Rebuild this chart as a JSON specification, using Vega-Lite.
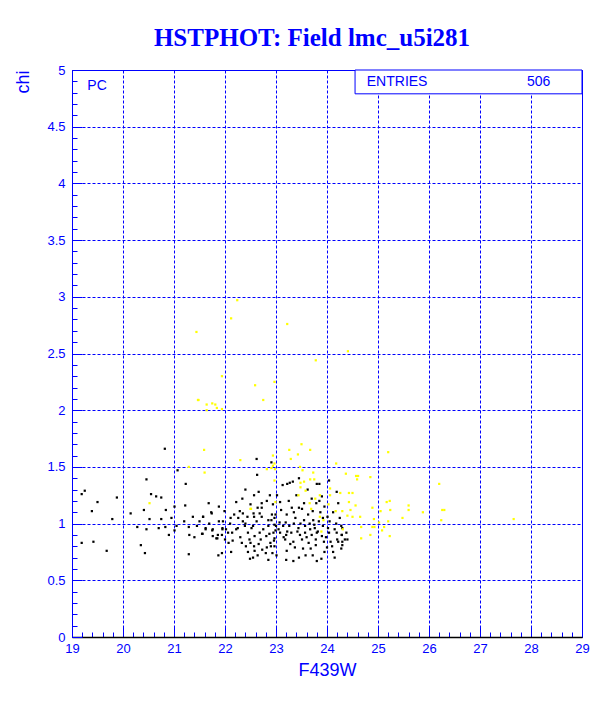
{
  "$schema": "https://vega.github.io/schema/vega-lite/v6.json",
  "width": 510,
  "height": 567,
  "autosize": {"type": "none"},
  "padding": {"left": 72, "top": 70, "right": 30, "bottom": 72},
  "background": "white",
  "config": {"view": {"stroke": "#0000ff", "strokeWidth": 1}},
  "title": {"text": "HSTPHOT: Field lmc_u5i281", "font": "Liberation Serif", "fontSize": 25, "fontWeight": "bold", "color": "#0000ff", "anchor": "middle", "offset": 13, "dx": -15},
  "encoding": {
    "x": {"field": "x", "type": "quantitative",
      "scale": {"domain": [19, 29], "nice": false, "zero": false},
      "axis": {
        "values": [19,19.2,19.4,19.6,19.8,20,20.2,20.4,20.6,20.8,21,21.2,21.4,21.6,21.8,22,22.2,22.4,22.6,22.8,23,23.2,23.4,23.6,23.8,24,24.2,24.4,24.6,24.8,25,25.2,25.4,25.6,25.8,26,26.2,26.4,26.6,26.8,27,27.2,27.4,27.6,27.8,28,28.2,28.4,28.6,28.8,29],
        "labelExpr": "abs(datum.value-round(datum.value))<0.01 ? format(datum.value,'d') : ''",
        "grid": true, "gridColor": "#0000ff", "gridDash": [3, 2], "gridWidth": 1,
        "gridOpacity": {"condition": {"test": "abs(datum.value-round(datum.value))<0.01", "value": 1}, "value": 0},
        "tickSize": {"condition": {"test": "abs(datum.value-round(datum.value))<0.01", "value": -10}, "value": -5},
        "tickColor": "#0000ff", "domainColor": "#000000", "domainWidth": 1.5,
        "labelColor": "#0000ff", "labelFont": "Liberation Sans", "labelFontSize": 13, "labelPadding": 15,
        "labelFlush": false, "labelOverlap": false,
        "title": "F439W", "titleColor": "#0000ff", "titleFont": "Liberation Sans", "titleFontSize": 18, "titleFontWeight": "normal", "titlePadding": 1
      }},
    "y": {"field": "y", "type": "quantitative",
      "scale": {"domain": [0, 5], "nice": false, "zero": false},
      "axis": {
        "values": [0,0.1,0.2,0.3,0.4,0.5,0.6,0.7,0.8,0.9,1,1.1,1.2,1.3,1.4,1.5,1.6,1.7,1.8,1.9,2,2.1,2.2,2.3,2.4,2.5,2.6,2.7,2.8,2.9,3,3.1,3.2,3.3,3.4,3.5,3.6,3.7,3.8,3.9,4,4.1,4.2,4.3,4.4,4.5,4.6,4.7,4.8,4.9,5],
        "labelExpr": "abs(datum.value*2-round(datum.value*2))<0.01 ? format(datum.value,'.1~f') : ''",
        "grid": true, "gridColor": "#0000ff", "gridDash": [3, 2], "gridWidth": 1,
        "gridOpacity": {"condition": {"test": "abs(datum.value*2-round(datum.value*2))<0.01", "value": 1}, "value": 0},
        "tickSize": {"condition": {"test": "abs(datum.value*2-round(datum.value*2))<0.01", "value": -10}, "value": -5},
        "tickColor": "#0000ff", "domainColor": "#0000ff",
        "labelColor": "#0000ff", "labelFont": "Liberation Sans", "labelFontSize": 13, "labelPadding": 17,
        "labelFlush": false, "labelOverlap": false,
        "title": "chi", "titleColor": "#0000ff", "titleFont": "Liberation Sans", "titleFontSize": 18, "titleFontWeight": "normal", "titleAnchor": "end", "titlePadding": 14
      }}
  },
  "layer": [
    {
      "data": {"values": [
{"x":20.82,"y":1.66,"c":"b"},{"x":20.46,"y":1.39,"c":"b"},{"x":21.23,"y":1.35,"c":"b"},{"x":21.07,"y":1.47,"c":"b"},{"x":19.19,"y":1.26,"c":"b"},{"x":19.25,"y":1.29,"c":"b"},{"x":19.50,"y":1.19,"c":"b"},{"x":20.55,"y":1.26,"c":"b"},{"x":20.65,"y":1.24,"c":"b"},{"x":20.75,"y":1.23,"c":"b"},{"x":19.88,"y":1.23,"c":"b"},{"x":19.39,"y":1.11,"c":"b"},{"x":20.15,"y":1.09,"c":"b"},{"x":20.41,"y":1.12,"c":"b"},{"x":20.52,"y":1.04,"c":"b"},{"x":20.75,"y":1.04,"c":"b"},{"x":20.84,"y":1.12,"c":"b"},{"x":21.01,"y":1.15,"c":"b"},{"x":21.22,"y":1.16,"c":"b"},{"x":19.79,"y":1.04,"c":"b"},{"x":20.28,"y":0.97,"c":"b"},{"x":20.46,"y":0.95,"c":"b"},{"x":20.70,"y":0.96,"c":"b"},{"x":20.83,"y":0.97,"c":"b"},{"x":20.90,"y":0.90,"c":"b"},{"x":21.01,"y":0.94,"c":"b"},{"x":21.05,"y":0.98,"c":"b"},{"x":21.37,"y":1.06,"c":"b"},{"x":21.57,"y":1.06,"c":"b"},{"x":21.29,"y":0.97,"c":"b"},{"x":21.30,"y":0.90,"c":"b"},{"x":21.40,"y":0.88,"c":"b"},{"x":21.45,"y":0.98,"c":"b"},{"x":21.55,"y":0.91,"c":"b"},{"x":21.62,"y":0.96,"c":"b"},{"x":21.76,"y":0.95,"c":"b"},{"x":21.76,"y":0.89,"c":"b"},{"x":21.85,"y":0.87,"c":"b"},{"x":21.73,"y":1.10,"c":"b"},{"x":21.94,"y":0.90,"c":"b"},{"x":21.95,"y":0.96,"c":"b"},{"x":21.94,"y":0.74,"c":"b"},{"x":21.29,"y":0.73,"c":"b"},{"x":19.19,"y":0.83,"c":"b"},{"x":19.42,"y":0.84,"c":"b"},{"x":19.68,"y":0.76,"c":"b"},{"x":20.35,"y":0.81,"c":"b"},{"x":20.43,"y":0.74,"c":"b"},
{"x":22.57,"y":1.25,"c":"b"},{"x":22.34,"y":1.22,"c":"b"},{"x":22.22,"y":1.19,"c":"b"},{"x":22.50,"y":1.17,"c":"b"},{"x":22.72,"y":1.18,"c":"b"},{"x":22.82,"y":1.20,"c":"b"},{"x":22.64,"y":1.14,"c":"b"},{"x":22.72,"y":1.14,"c":"b"},{"x":22.29,"y":1.11,"c":"b"},{"x":22.35,"y":1.09,"c":"b"},{"x":22.56,"y":1.09,"c":"b"},{"x":22.68,"y":1.09,"c":"b"},{"x":22.18,"y":1.08,"c":"b"},{"x":21.99,"y":1.11,"c":"b"},{"x":22.11,"y":1.05,"c":"b"},{"x":22.26,"y":1.05,"c":"b"},{"x":22.44,"y":1.06,"c":"b"},{"x":22.57,"y":1.06,"c":"b"},{"x":22.72,"y":1.06,"c":"b"},{"x":22.85,"y":1.03,"c":"b"},{"x":22.91,"y":1.03,"c":"b"},{"x":22.35,"y":1.02,"c":"b"},{"x":21.57,"y":1.06,"c":"b"},{"x":21.74,"y":1.09,"c":"b"},{"x":21.88,"y":1.02,"c":"b"},{"x":21.96,"y":1.02,"c":"b"},{"x":21.69,"y":1.00,"c":"b"},{"x":21.62,"y":0.95,"c":"b"},{"x":21.75,"y":0.94,"c":"b"},{"x":21.95,"y":0.95,"c":"b"},{"x":21.86,"y":0.90,"c":"b"},{"x":21.56,"y":0.91,"c":"b"},{"x":21.83,"y":0.87,"c":"b"},{"x":22.02,"y":0.95,"c":"b"},{"x":22.06,"y":0.92,"c":"b"},{"x":22.14,"y":0.92,"c":"b"},{"x":22.25,"y":0.96,"c":"b"},{"x":22.39,"y":0.98,"c":"b"},{"x":22.45,"y":0.92,"c":"b"},{"x":22.52,"y":0.96,"c":"b"},{"x":22.58,"y":0.89,"c":"b"},{"x":22.68,"y":0.92,"c":"b"},{"x":22.81,"y":0.89,"c":"b"},{"x":22.87,"y":0.91,"c":"b"},{"x":22.99,"y":0.94,"c":"b"},{"x":22.97,"y":0.87,"c":"b"},{"x":22.07,"y":0.83,"c":"b"},{"x":22.15,"y":0.85,"c":"b"},{"x":22.33,"y":0.83,"c":"b"},{"x":22.41,"y":0.80,"c":"b"},{"x":22.50,"y":0.83,"c":"b"},{"x":22.57,"y":0.80,"c":"b"},{"x":22.66,"y":0.82,"c":"b"},{"x":22.73,"y":0.77,"c":"b"},{"x":22.82,"y":0.79,"c":"b"},{"x":22.89,"y":0.83,"c":"b"},{"x":22.45,"y":0.75,"c":"b"},{"x":22.58,"y":0.76,"c":"b"},{"x":22.64,"y":0.72,"c":"b"},{"x":22.80,"y":0.74,"c":"b"},{"x":22.12,"y":0.75,"c":"b"},{"x":21.87,"y":0.72,"c":"b"},{"x":22.49,"y":0.69,"c":"b"},{"x":22.93,"y":0.74,"c":"b"},{"x":22.97,"y":0.80,"c":"b"},{"x":22.97,"y":0.99,"c":"b"},{"x":22.99,"y":1.08,"c":"b"},{"x":22.94,"y":1.17,"c":"b"},
{"x":23.27,"y":1.36,"c":"b"},{"x":23.80,"y":1.35,"c":"b"},{"x":23.13,"y":1.34,"c":"b"},{"x":24.19,"y":1.28,"c":"b"},{"x":24.22,"y":1.18,"c":"b"},{"x":23.90,"y":1.24,"c":"b"},{"x":23.70,"y":1.22,"c":"b"},{"x":23.08,"y":1.19,"c":"b"},{"x":23.31,"y":1.14,"c":"b"},{"x":23.51,"y":1.13,"c":"b"},{"x":23.72,"y":1.11,"c":"b"},{"x":23.87,"y":1.10,"c":"b"},{"x":24.01,"y":1.06,"c":"b"},{"x":23.63,"y":1.08,"c":"b"},{"x":23.21,"y":1.08,"c":"b"},{"x":22.97,"y":1.05,"c":"b"},{"x":23.38,"y":1.05,"c":"b"},{"x":23.55,"y":1.03,"c":"b"},{"x":23.73,"y":1.03,"c":"b"},{"x":23.84,"y":1.02,"c":"b"},{"x":23.07,"y":1.01,"c":"b"},{"x":23.19,"y":1.01,"c":"b"},{"x":23.35,"y":1.00,"c":"b"},{"x":23.00,"y":0.98,"c":"b"},{"x":23.14,"y":0.98,"c":"b"},{"x":23.26,"y":0.98,"c":"b"},{"x":23.44,"y":0.96,"c":"b"},{"x":23.57,"y":0.98,"c":"b"},{"x":23.67,"y":0.95,"c":"b"},{"x":23.76,"y":0.96,"c":"b"},{"x":23.92,"y":0.98,"c":"b"},{"x":24.02,"y":0.96,"c":"b"},{"x":24.15,"y":0.95,"c":"b"},{"x":24.28,"y":0.98,"c":"b"},{"x":24.04,"y":0.92,"c":"b"},{"x":24.19,"y":0.92,"c":"b"},{"x":24.29,"y":0.90,"c":"b"},{"x":22.95,"y":0.92,"c":"b"},{"x":23.08,"y":0.92,"c":"b"},{"x":23.20,"y":0.90,"c":"b"},{"x":23.30,"y":0.92,"c":"b"},{"x":23.47,"y":0.90,"c":"b"},{"x":23.57,"y":0.92,"c":"b"},{"x":23.70,"y":0.90,"c":"b"},{"x":23.80,"y":0.92,"c":"b"},{"x":23.90,"y":0.89,"c":"b"},{"x":23.18,"y":0.86,"c":"b"},{"x":23.34,"y":0.84,"c":"b"},{"x":23.51,"y":0.86,"c":"b"},{"x":23.64,"y":0.83,"c":"b"},{"x":23.78,"y":0.86,"c":"b"},{"x":23.94,"y":0.84,"c":"b"},{"x":24.07,"y":0.84,"c":"b"},{"x":24.20,"y":0.86,"c":"b"},{"x":23.21,"y":0.76,"c":"b"},{"x":23.37,"y":0.79,"c":"b"},{"x":23.53,"y":0.78,"c":"b"},{"x":23.78,"y":0.81,"c":"b"},{"x":24.00,"y":0.79,"c":"b"},{"x":24.12,"y":0.75,"c":"b"},{"x":23.72,"y":0.72,"c":"b"},{"x":23.34,"y":0.67,"c":"b"},{"x":23.80,"y":0.67,"c":"b"},{"x":23.89,"y":0.69,"c":"b"},{"x":23.01,"y":0.72,"c":"b"},{"x":22.96,"y":0.85,"c":"b"},{"x":23.79,"y":1.18,"c":"b"},{"x":23.45,"y":1.14,"c":"b"},
{"x":22.62,"y":1.57,"c":"b"},{"x":22.91,"y":1.54,"c":"b"},{"x":22.63,"y":1.43,"c":"b"},{"x":23.45,"y":1.40,"c":"b"},{"x":23.22,"y":1.35,"c":"b"},{"x":23.33,"y":1.37,"c":"b"},{"x":23.85,"y":1.35,"c":"b"},{"x":24.04,"y":1.38,"c":"b"},{"x":24.29,"y":0.90,"c":"b"},{"x":24.30,"y":0.84,"c":"b"},{"x":24.30,"y":0.81,"c":"b"},{"x":24.40,"y":0.86,"c":"b"},
{"x":23.10,"y":1.12,"c":"b"},{"x":23.25,"y":1.20,"c":"b"},{"x":23.40,"y":1.25,"c":"b"},{"x":23.55,"y":1.18,"c":"b"},{"x":23.62,"y":1.30,"c":"b"},{"x":23.85,"y":1.20,"c":"b"},{"x":23.95,"y":1.15,"c":"b"},{"x":24.05,"y":1.02,"c":"b"},{"x":24.12,"y":1.10,"c":"b"},{"x":24.25,"y":1.05,"c":"b"},{"x":23.15,"y":0.88,"c":"b"},{"x":23.28,"y":0.82,"c":"b"},{"x":23.42,"y":0.93,"c":"b"},{"x":23.60,"y":0.88,"c":"b"},{"x":23.68,"y":0.78,"c":"b"},{"x":23.82,"y":0.93,"c":"b"},{"x":23.98,"y":0.88,"c":"b"},{"x":24.10,"y":0.80,"c":"b"},{"x":24.22,"y":0.84,"c":"b"},{"x":24.30,"y":0.96,"c":"b"},{"x":22.30,"y":0.88,"c":"b"},{"x":22.40,"y":1.00,"c":"b"},{"x":22.55,"y":0.98,"c":"b"},{"x":22.62,"y":1.02,"c":"b"},{"x":22.75,"y":0.95,"c":"b"},{"x":22.85,"y":0.98,"c":"b"},{"x":22.92,"y":1.08,"c":"b"},{"x":22.22,"y":0.95,"c":"b"},{"x":22.10,"y":1.00,"c":"b"},{"x":22.00,"y":0.86,"c":"b"},{"x":22.48,"y":0.86,"c":"b"},{"x":22.70,"y":0.86,"c":"b"},{"x":22.90,"y":0.80,"c":"b"},{"x":23.05,"y":0.95,"c":"b"},{"x":23.22,"y":0.93,"c":"b"},{"x":23.48,"y":1.00,"c":"b"},{"x":23.66,"y":1.00,"c":"b"},{"x":23.92,"y":1.05,"c":"b"},{"x":24.18,"y":1.00,"c":"b"},{"x":23.75,"y":0.99,"c":"b"},{"x":23.35,"y":1.10,"c":"b"},{"x":23.02,"y":1.25,"c":"b"},{"x":22.88,"y":1.25,"c":"b"},{"x":22.66,"y":1.28,"c":"b"},{"x":22.40,"y":1.30,"c":"b"},{"x":21.88,"y":1.15,"c":"b"},{"x":21.68,"y":1.18,"c":"b"},{"x":21.50,"y":1.02,"c":"b"},{"x":21.20,"y":1.02,"c":"b"},{"x":20.95,"y":1.05,"c":"b"},{"x":24.38,"y":0.92,"c":"b"},{"x":24.35,"y":0.86,"c":"b"},{"x":24.28,"y":0.78,"c":"b"},{"x":24.15,"y":0.70,"c":"b"},{"x":23.95,"y":0.75,"c":"b"},{"x":23.58,"y":0.72,"c":"b"},{"x":23.45,"y":0.70,"c":"b"},{"x":23.20,"y":0.68,"c":"b"},{"x":22.85,"y":0.68,"c":"b"},{"x":22.55,"y":0.70,"c":"b"},
{"x":21.47,"y":2.09,"c":"y"},{"x":21.64,"y":2.05,"c":"y"},{"x":21.75,"y":2.06,"c":"y"},{"x":21.81,"y":2.05,"c":"y"},{"x":21.59,"y":1.65,"c":"y"},{"x":22.30,"y":1.56,"c":"y"},{"x":21.29,"y":1.50,"c":"y"},{"x":20.52,"y":1.18,"c":"y"},{"x":21.60,"y":1.45,"c":"y"},{"x":22.50,"y":1.13,"c":"y"},
{"x":22.24,"y":2.97,"c":"y"},{"x":23.22,"y":2.76,"c":"y"},{"x":24.41,"y":2.52,"c":"y"},{"x":23.78,"y":2.44,"c":"y"},{"x":21.94,"y":2.30,"c":"y"},{"x":22.59,"y":2.22,"c":"y"},{"x":22.97,"y":2.25,"c":"y"},{"x":21.48,"y":2.09,"c":"y"},{"x":21.84,"y":2.02,"c":"y"},{"x":21.94,"y":2.01,"c":"y"},{"x":21.64,"y":2.00,"c":"y"},{"x":22.75,"y":2.09,"c":"y"},{"x":22.12,"y":2.81,"c":"y"},{"x":21.44,"y":2.69,"c":"y"},
{"x":22.51,"y":1.13,"c":"y"},{"x":22.99,"y":1.19,"c":"y"},
{"x":23.48,"y":1.36,"c":"y"},{"x":23.48,"y":1.32,"c":"y"},{"x":23.86,"y":1.25,"c":"y"},{"x":23.66,"y":1.18,"c":"y"},{"x":23.69,"y":1.13,"c":"y"},{"x":24.06,"y":1.31,"c":"y"},{"x":24.06,"y":1.25,"c":"y"},{"x":24.26,"y":1.27,"c":"y"},{"x":24.43,"y":1.27,"c":"y"},{"x":24.17,"y":1.11,"c":"y"},{"x":24.30,"y":1.11,"c":"y"},{"x":24.40,"y":1.07,"c":"y"},{"x":24.31,"y":0.95,"c":"y"},{"x":23.86,"y":1.06,"c":"y"},{"x":23.93,"y":1.03,"c":"y"},{"x":23.89,"y":0.93,"c":"y"},{"x":23.44,"y":1.25,"c":"y"},{"x":23.77,"y":1.22,"c":"y"},{"x":23.58,"y":1.29,"c":"y"},{"x":24.43,"y":1.19,"c":"y"},{"x":24.03,"y":1.17,"c":"y"},
{"x":22.94,"y":1.60,"c":"y"},{"x":23.50,"y":1.70,"c":"y"},{"x":23.26,"y":1.65,"c":"y"},{"x":23.67,"y":1.65,"c":"y"},{"x":23.43,"y":1.61,"c":"y"},{"x":23.29,"y":1.57,"c":"y"},{"x":22.97,"y":1.53,"c":"y"},{"x":24.18,"y":1.53,"c":"y"},{"x":23.47,"y":1.50,"c":"y"},{"x":22.94,"y":1.51,"c":"y"},{"x":22.91,"y":1.49,"c":"y"},{"x":22.82,"y":1.48,"c":"y"},{"x":22.98,"y":1.48,"c":"y"},{"x":23.52,"y":1.47,"c":"y"},{"x":23.73,"y":1.45,"c":"y"},{"x":24.37,"y":1.44,"c":"y"},{"x":24.61,"y":1.42,"c":"y"},{"x":24.85,"y":1.41,"c":"y"},{"x":24.59,"y":1.39,"c":"y"},{"x":23.67,"y":1.39,"c":"y"},{"x":23.75,"y":1.39,"c":"y"},{"x":22.97,"y":1.38,"c":"y"},{"x":23.55,"y":1.37,"c":"y"},
{"x":25.20,"y":1.63,"c":"y"},{"x":24.57,"y":1.42,"c":"y"},{"x":24.50,"y":1.27,"c":"y"},{"x":26.20,"y":1.35,"c":"y"},{"x":25.17,"y":1.19,"c":"y"},{"x":25.23,"y":1.20,"c":"y"},{"x":24.56,"y":1.16,"c":"y"},{"x":24.46,"y":1.12,"c":"y"},{"x":24.89,"y":1.14,"c":"y"},{"x":25.05,"y":1.11,"c":"y"},{"x":25.24,"y":1.12,"c":"y"},{"x":25.60,"y":1.16,"c":"y"},{"x":25.60,"y":1.12,"c":"y"},{"x":25.88,"y":1.10,"c":"y"},{"x":26.26,"y":1.12,"c":"y"},{"x":26.30,"y":1.12,"c":"y"},{"x":24.50,"y":1.06,"c":"y"},{"x":24.65,"y":1.06,"c":"y"},{"x":24.92,"y":1.04,"c":"y"},{"x":25.20,"y":1.02,"c":"y"},{"x":25.48,"y":1.05,"c":"y"},{"x":26.24,"y":1.03,"c":"y"},{"x":27.66,"y":1.04,"c":"y"},{"x":24.67,"y":0.97,"c":"y"},{"x":24.93,"y":0.97,"c":"y"},{"x":25.12,"y":0.97,"c":"y"},{"x":25.08,"y":0.94,"c":"y"},{"x":24.85,"y":0.90,"c":"y"},{"x":25.23,"y":0.89,"c":"y"},{"x":24.67,"y":0.87,"c":"y"},{"x":25.02,"y":1.01,"c":"y"},{"x":24.89,"y":0.97,"c":"y"}
      ]},
      "mark": {"type": "point", "shape": "square", "filled": true, "size": 5, "opacity": 1},
      "encoding": {
        "color": {"field": "c", "type": "nominal", "scale": {"domain": ["b", "y"], "range": ["#000000", "#ffff00"]}, "legend": null}
      }
    },
    {
      "data": {"values": [{"x": 24.55, "x2": 29, "y": 4.79, "y2": 5}]},
      "mark": {"type": "rect", "fill": "white", "stroke": "#0000ff", "strokeWidth": 1},
      "encoding": {"x2": {"field": "x2"}, "y2": {"field": "y2"}}
    },
    {
      "data": {"values": [
        {"x": 19.3, "y": 4.86, "label": "PC"},
        {"x": 24.78, "y": 4.89, "label": "ENTRIES"},
        {"x": 27.92, "y": 4.89, "label": "506"}
      ]},
      "mark": {"type": "text", "align": "left", "baseline": "middle", "font": "Liberation Sans", "fontSize": 14, "color": "#0000ff"},
      "encoding": {"text": {"field": "label"}}
    }
  ]
}
